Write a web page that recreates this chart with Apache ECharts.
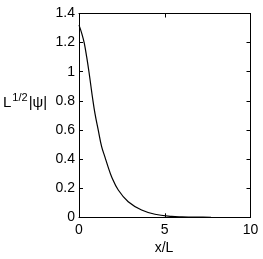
<!DOCTYPE html>
<html><head><meta charset="utf-8">
<script src="https://cdn.jsdelivr.net/npm/echarts@6/dist/echarts.min.js"></script>
<style>html,body{margin:0;padding:0;background:#fff}#c{width:263px;height:259px}</style>
</head><body><div id="c"></div>
<script>
var xs = [0, 0.16, 0.31, 0.45, 0.58, 0.70, 0.78, 0.93, 1.12, 1.32, 1.51, 1.70, 1.90, 2.29, 2.87, 3.65, 4.43, 5.40, 6.0, 7.0, 7.7];
var ys = [1.32, 1.264, 1.195, 1.10, 1.0, 0.897, 0.828, 0.714, 0.60, 0.485, 0.415, 0.345, 0.279, 0.1875, 0.107, 0.050, 0.021, 0.006, 0.003, 0.001, 0.0005];
var xTicks = [0, 5, 10];
var yTicks = [0, 0.2, 0.4, 0.6, 0.8, 1, 1.2, 1.4];
var data = xs.map(function(x, i){ return [x, ys[i]]; });
var font = 'Liberation Sans, Arial, sans-serif';
var chart = echarts.init(document.getElementById('c'));
var axisLine = {show: true, onZero: false, lineStyle: {color: '#000', width: 1}};
var tick = {show: true, inside: true, length: 4, lineStyle: {color: '#000'}};
chart.setOption({
  animation: false,
  grid: {left: 79, right: 12.5, top: 13.5, bottom: 41.7, containLabel: false},
  xAxis: [
    {type: 'value', min: xTicks[0], max: xTicks[xTicks.length-1], interval: 5, axisLine: axisLine, axisTick: tick, splitLine: {show: false},
     axisLabel: {color: '#000', fontFamily: font, fontSize: 14, margin: 6}},
    {type: 'value', position: 'top', min: 0, max: 10, interval: 5, axisLine: axisLine, axisTick: tick, splitLine: {show: false}, axisLabel: {show: false}}
  ],
  yAxis: [
    {type: 'value', min: yTicks[0], max: yTicks[yTicks.length-1], interval: 0.2, axisLine: axisLine, axisTick: tick, splitLine: {show: false},
     axisLabel: {color: '#000', fontFamily: font, fontSize: 14, margin: 4}},
    {type: 'value', position: 'right', min: 0, max: 1.4, interval: 0.2, axisLine: axisLine, axisTick: tick, splitLine: {show: false}, axisLabel: {show: false}}
  ],
  graphic: [
    {type: 'text', x: 164, y: 248, style: {text: 'x/L', font: '14px ' + font, fill: '#000', align: 'center', verticalAlign: 'middle'}},
    {type: 'text', x: 3, y: 101, style: {
      text: '{a|L}{s|1/2}{a||ψ|}', verticalAlign: 'middle', fill: '#000',
      rich: {a: {fontFamily: font, fontSize: 15, fill: '#000', verticalAlign: 'bottom', lineHeight: 18},
             s: {fontFamily: font, fontSize: 11, fill: '#000', verticalAlign: 'top', lineHeight: 18, padding: [0,1,8,1]}}
    }}
  ],
  series: [{type: 'line', data: data, smooth: 0.4, showSymbol: false, lineStyle: {color: '#000', width: 1.2}}]
});
</script></body></html>
